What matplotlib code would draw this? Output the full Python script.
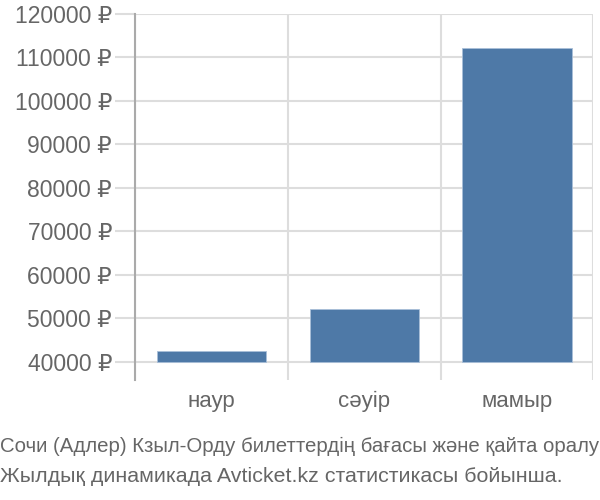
import matplotlib
matplotlib.use("Agg")
from matplotlib import pyplot as plt
import numpy as np

plt.rcParams['font.family'] = ['Liberation Sans', 'DejaVu Sans']

# Data
months = ["наур", "сәуір", "мамыр"]
prices = [42500, 52200, 112100]
yticks = [40000, 50000, 60000, 70000, 80000, 90000, 100000, 110000, 120000]
base = 40000

caption_lines = ["Сочи (Адлер) Кзыл-Орду билеттердің бағасы және қайта оралу",
                 "Жылдық динамикада Avticket.kz статистикасы бойынша."]

text_col = "#666666"
grid_col = "#dddddd"

fig = plt.figure(figsize=(6, 5), dpi=100)
ax = fig.add_axes([0.225, 0.24, 0.764, 0.732])

x = np.arange(len(months))
ax.bar(x, np.array(prices) - base, bottom=base, width=0.715,
       color="#4e79a7", edgecolor="#a9bfd8", linewidth=0.6, zorder=3)

ax.set_xlim(-0.5, len(months) - 0.5)
ax.set_ylim(35860, 120000)

ax.set_yticks(yticks)
ax.set_yticklabels([f"{v} ₽" for v in yticks])
ax.set_xticks(x)
ax.set_xticklabels(months)
ax.set_xticks(np.arange(-0.5, len(months), 1.0), minor=True)

ax.grid(axis="y", which="major", color=grid_col, linewidth=1.5, zorder=0)
ax.grid(axis="x", which="minor", color=grid_col, linewidth=1.5, zorder=0)

ax.tick_params(axis="y", length=14.5, width=1.5, color=grid_col, pad=2,
               labelsize=16.5, labelcolor=text_col)
ax.tick_params(axis="x", which="major", length=0, pad=8,
               labelsize=16, labelcolor=text_col)
ax.tick_params(axis="x", which="minor", length=0)

for s in ["top", "right", "bottom"]:
    ax.spines[s].set_visible(False)
ax.spines["left"].set_color("#aaaaaa")
ax.spines["left"].set_linewidth(1.5)

fig.text(0.0, 1 - 452 / 500, caption_lines[0], ha="left", va="baseline",
         fontsize=14.7, color=text_col)
fig.text(0.0, 1 - 482 / 500, caption_lines[1], ha="left", va="baseline",
         fontsize=15.4, color=text_col)

fig.savefig("out.png", dpi=100)
